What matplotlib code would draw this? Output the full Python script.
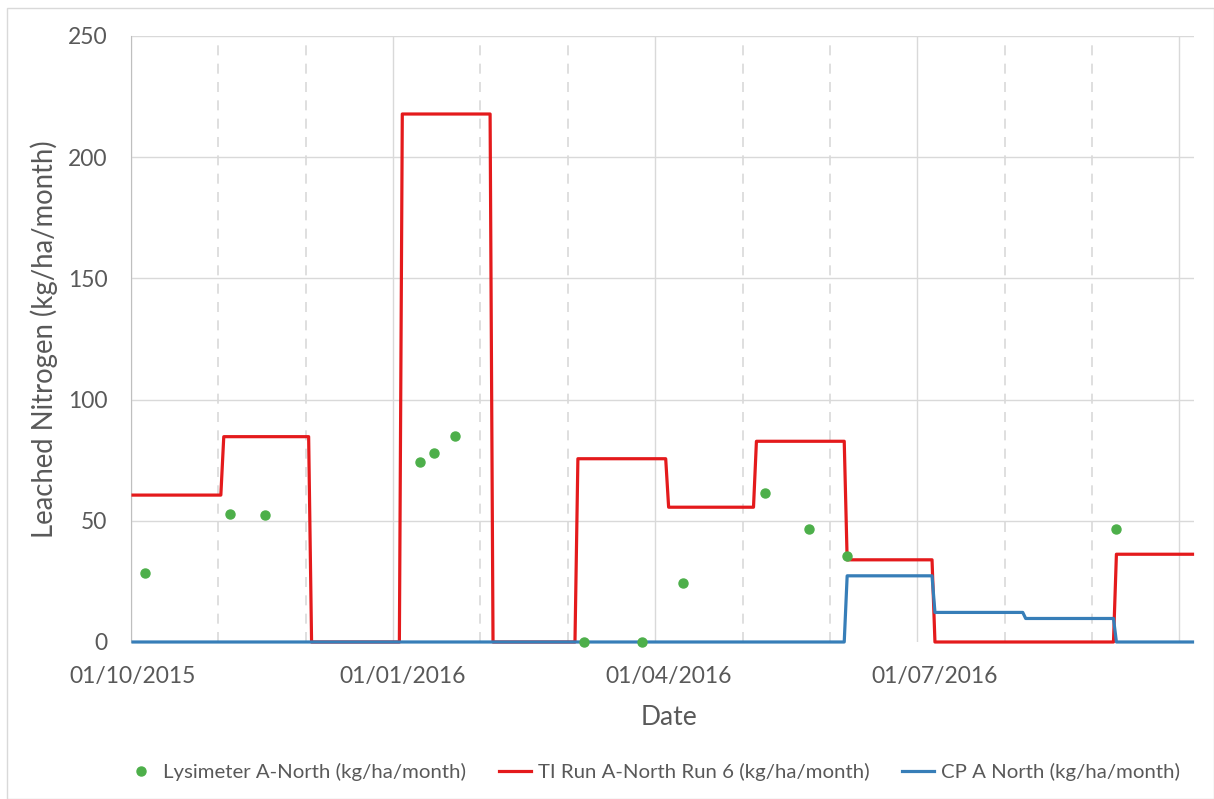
import numpy as np
import pandas as pd
import matplotlib
matplotlib.use("Agg")
import matplotlib.pyplot as plt
import matplotlib.dates as mdates
from matplotlib.lines import Line2D
from matplotlib.patches import Rectangle

# monthly modelled values, Oct 2015 .. Sep 2016
months = ["2015-10", "2015-11", "2015-12", "2016-01", "2016-02", "2016-03",
          "2016-04", "2016-05", "2016-06", "2016-07", "2016-08", "2016-09"]
ti_run = [60.6, 84.7, 0, 217.8, 0, 75.6, 55.6, 82.8, 33.9, 0, 0, 36.2]
cp_north = [0, 0, 0, 0, 0, 0, 0, 0, 27.3, 12.2, 9.7, 0]

# lysimeter measurements
lys_dates = ["2015-10-05", "2015-11-03", "2015-11-15", "2016-01-07", "2016-01-12",
             "2016-01-19", "2016-03-03", "2016-03-23", "2016-04-06", "2016-05-04",
             "2016-05-19", "2016-06-01", "2016-09-01"]
lys_vals = [28.4, 52.6, 52.2, 74.2, 77.8, 84.8, 0, 0, 24.5, 61.3, 46.7, 35.5, 46.6]

tick_dates = ["2015-10-01", "2016-01-01", "2016-04-01", "2016-07-01"]

# daily series (each day carries its month's value), cut where the axis ends
days = pd.date_range("2015-10-01", "2016-09-27", freq="D")
per = days.to_period("M").astype(str)
ti_daily = pd.Series(ti_run, index=months).reindex(per).values
cp_daily = pd.Series(cp_north, index=months).reindex(per).values

red = "#e41a1c"
blue = "#377eb8"
green = "#4daf4a"
txt = "#595959"
grid = "#d9d9d9"

plt.rcParams["font.family"] = ["Lato", "DejaVu Sans"]

fig = plt.figure(figsize=(12.14, 7.99), dpi=100)
fig.patches.append(Rectangle((0.006, 0.0), 0.994, 0.99, transform=fig.transFigure,
                             fill=False, edgecolor=grid, linewidth=1))
ax = fig.add_axes([0.1079, 0.1965, 0.8756, 0.7585])

ax.plot(days, ti_daily, color=red, lw=2.3, zorder=3, clip_on=False)
ax.plot(days, cp_daily, color=blue, lw=2.3, zorder=4, clip_on=False)
ax.plot(pd.to_datetime(lys_dates), lys_vals, "o", color=green, ms=6.5, zorder=5,
        clip_on=False)

start = mdates.date2num(pd.Timestamp("2015-10-01"))
ax.set_xlim(start - 0.7, start + 362.5)
ax.set_ylim(0, 250)

# vertical grid: every ~month, solid every third
for i in range(13):
    x = start - 0.7 + i * 29.85
    if i % 3 == 0:
        ax.axvline(x, color=grid, lw=1, zorder=1)
    else:
        ax.axvline(x, color=grid, lw=1.2, ls=(0, (6, 5)), zorder=1)

ax.set_yticks(np.arange(0, 251, 50))
for y in np.arange(50, 251, 50):
    ax.axhline(y, color=grid, lw=1, zorder=1)

ax.set_xticks(pd.to_datetime(tick_dates))
ax.xaxis.set_major_formatter(mdates.DateFormatter("%d/%m/%Y"))
ax.tick_params(axis="both", length=0, labelsize=16.5, colors=txt)
ax.tick_params(axis="x", pad=17)
ax.tick_params(axis="y", pad=17)

for s in ["top", "right", "bottom"]:
    ax.spines[s].set_visible(False)
ax.spines["left"].set_color("#bfbfbf")

ax.set_xlabel("Date", fontsize=19, color=txt)
ax.xaxis.set_label_coords(0.506, -0.104)
ax.set_ylabel("Leached Nitrogen (kg/ha/month)", fontsize=19.8, color=txt)
ax.yaxis.set_label_coords(-0.069, 0.5)

handles = [
    Line2D([], [], marker="o", ls="none", color=green, ms=6.5),
    Line2D([], [], color=red, lw=2.3),
    Line2D([], [], color=blue, lw=2.3),
]
labels = ["Lysimeter A-North (kg/ha/month)", "TI Run A-North Run 6 (kg/ha/month)",
          "CP A North (kg/ha/month)"]
leg = fig.legend(handles, labels, loc="center", bbox_to_anchor=(0.537, 0.034), ncol=3,
                 frameon=False, fontsize=14.7, handlelength=1.6, handletextpad=0.3,
                 columnspacing=1.6)
for t in leg.get_texts():
    t.set_color(txt)

fig.savefig("out.png", dpi=100)
